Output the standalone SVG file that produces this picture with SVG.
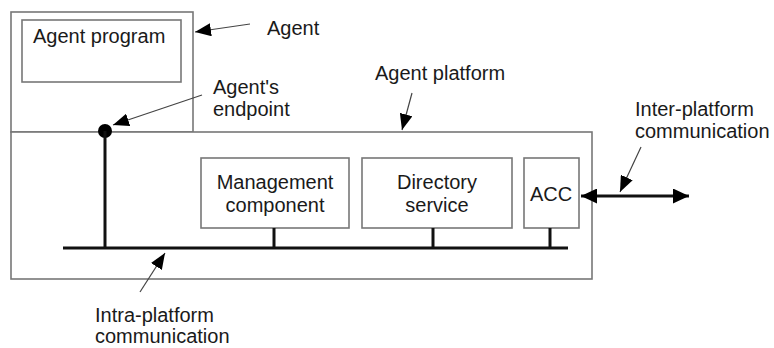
<svg xmlns="http://www.w3.org/2000/svg" width="774" height="348" viewBox="0 0 774 348">
<style>
  text { font-family: "Liberation Sans", Arial, sans-serif; font-size: 20px; fill: #1a1a1a; }
  .box { fill: #fff; stroke: #777; stroke-width: 1.6; }
  .bus { stroke: #111; stroke-width: 3; fill: none; }
  .ptr { stroke: #444; stroke-width: 1.2; fill: none; marker-end: url(#ah); }
</style>
<defs>
  <marker id="ah" markerUnits="userSpaceOnUse" markerWidth="17" markerHeight="13" refX="16" refY="6.5" orient="auto">
    <path d="M0,0 L16,6.5 L0,13 z" fill="#000"/>
  </marker>
  <marker id="ah2" markerUnits="userSpaceOnUse" markerWidth="17" markerHeight="15" refX="16" refY="7.5" orient="auto-start-reverse">
    <path d="M0,0 L16,7.5 L0,15 z" fill="#000"/>
  </marker>
</defs>
<rect width="774" height="348" fill="#fff"/>

<g id="agent">
  <rect class="box" x="11" y="12" width="182" height="120"/>
</g>
<g id="platform">
  <rect class="box" x="11" y="132" width="581" height="147" fill="none"/>
</g>
<g id="agent-program">
  <rect class="box" x="22" y="20" width="159" height="62"/>
  <text x="33" y="43">Agent program</text>
</g>
<g id="management">
  <rect class="box" x="201" y="158" width="148" height="70"/>
  <text x="275" y="189" text-anchor="middle">Management</text>
  <text x="275" y="212" text-anchor="middle">component</text>
</g>
<g id="directory">
  <rect class="box" x="362" y="158" width="150" height="70"/>
  <text x="437" y="189" text-anchor="middle">Directory</text>
  <text x="437" y="212" text-anchor="middle">service</text>
</g>
<g id="acc">
  <rect class="box" x="524" y="158" width="55" height="70"/>
  <text x="551" y="201" text-anchor="middle">ACC</text>
</g>
<g id="endpoint">
  <circle cx="105" cy="131" r="7" fill="#000"/>
</g>

<g id="connectors">
  <line class="bus" x1="63" y1="248" x2="568" y2="248"/>
  <line class="bus" x1="105" y1="131" x2="105" y2="248"/>
  <line class="bus" x1="274" y1="228" x2="274" y2="248"/>
  <line class="bus" x1="433" y1="228" x2="433" y2="248"/>
  <line class="bus" x1="550" y1="228" x2="550" y2="248"/>
  <line class="bus" x1="581" y1="196" x2="689" y2="196" marker-start="url(#ah2)" marker-end="url(#ah2)"/>
  <line class="ptr" x1="250" y1="24" x2="195" y2="32"/>
  <line class="ptr" x1="202" y1="95" x2="113" y2="125"/>
  <line class="ptr" x1="412" y1="93" x2="402" y2="130"/>
  <line class="ptr" x1="641" y1="147" x2="620" y2="192"/>
  <line class="ptr" x1="140" y1="292" x2="165" y2="253"/>
</g>

<g id="labels">
  <text x="267" y="35">Agent</text>
  <text x="213" y="94">Agent's</text>
  <text x="213" y="116">endpoint</text>
  <text x="375" y="80">Agent platform</text>
  <text x="635" y="116">Inter-platform</text>
  <text x="635" y="138">communication</text>
  <text x="95" y="322">Intra-platform</text>
  <text x="95" y="343">communication</text>
</g>
</svg>
